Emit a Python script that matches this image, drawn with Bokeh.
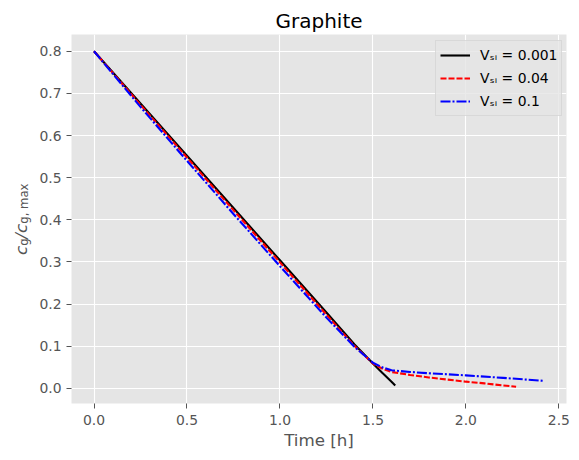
import math
from bokeh.plotting import figure
from bokeh.models import (Label, Legend, LegendItem, FixedTicker,
                          PrintfTickFormatter, Range1d)
from bokeh.embed import file_html
from bokeh.resources import INLINE

# ---- data ----
t_001 = [0.0, 0.25, 0.5, 0.75, 1.0, 1.25, 1.4, 1.5, 1.55, 1.6, 1.62]
c_001 = [0.800, 0.676, 0.552, 0.428, 0.304, 0.180, 0.105, 0.059, 0.037, 0.016, 0.007]

t_004 = [0.0, 0.25, 0.5, 0.75, 1.0, 1.25, 1.4, 1.5, 1.55, 1.6, 1.7, 1.8, 1.9, 2.0, 2.1, 2.2, 2.27]
c_004 = [0.800, 0.673, 0.548, 0.423, 0.299, 0.175, 0.101, 0.059, 0.047, 0.039, 0.032,
         0.026, 0.021, 0.016, 0.012, 0.007, 0.004]

t_01 = [0.0, 0.25, 0.5, 0.75, 1.0, 1.25, 1.4, 1.5, 1.55, 1.6, 1.7, 1.8, 2.0, 2.2, 2.42]
c_01 = [0.800, 0.668, 0.540, 0.414, 0.290, 0.168, 0.099, 0.061, 0.050, 0.043, 0.039,
        0.036, 0.031, 0.025, 0.018]

labels = ["V\u209b\u1d62 = 0.001", "V\u209b\u1d62 = 0.04", "V\u209b\u1d62 = 0.1"]
x_ticks = [0.0, 0.5, 1.0, 1.5, 2.0, 2.5]
y_ticks = [0.0, 0.1, 0.2, 0.3, 0.4, 0.5, 0.6, 0.7, 0.8]
title_text = "Graphite"
x_label = "Time [h]"
# y label c_g / c_{g, max}: main-size part and subscript part
y_label_main = "c\u2004\u200a/c"
y_label_sub = "g\u2003\u2005g, max"

FONT = "DejaVu Sans"
TICK_COLOR = "#555555"

all_t = t_001 + t_004 + t_01
all_c = c_001 + c_004 + c_01
xspan = max(all_t) - min(all_t)
yspan = max(all_c) - min(all_c)

FW, FH = 495, 369
p = figure(width=579, height=460, output_backend="svg", toolbar_location=None,
           x_range=Range1d(min(all_t) - 0.05 * xspan, max(all_t) + 0.05 * xspan),
           y_range=Range1d(min(all_c) - 0.05 * yspan, max(all_c) + 0.05 * yspan),
           min_border_left=71, min_border_top=34, min_border_right=13, min_border_bottom=57)
p.background_fill_color = "#E5E5E5"
p.border_fill_color = "white"
p.outline_line_color = None

p.title.text = title_text
p.title.align = "center"
p.title.text_font = FONT
p.title.text_font_size = "20px"
p.title.text_font_style = "normal"
p.title.text_color = "black"
p.title.standoff = 4

for ax, ticks in ((p.xaxis[0], x_ticks), (p.yaxis[0], y_ticks)):
    ax.ticker = FixedTicker(ticks=ticks)
    ax.formatter = PrintfTickFormatter(format="%.1f")
    ax.axis_line_color = None
    ax.major_tick_line_color = TICK_COLOR
    ax.major_tick_in = 0
    ax.major_tick_out = 5
    ax.minor_tick_line_color = None
    ax.major_label_text_font = FONT
    ax.major_label_text_font_size = "13.9px"
    ax.major_label_text_color = TICK_COLOR
p.xaxis.major_label_standoff = 6
p.yaxis.major_label_standoff = 5

p.xaxis.axis_label = x_label
p.xaxis.axis_label_text_font = FONT
p.xaxis.axis_label_text_font_size = "16.7px"
p.xaxis.axis_label_text_font_style = "normal"
p.xaxis.axis_label_text_color = TICK_COLOR
p.xaxis.axis_label_standoff = 2

p.xgrid.grid_line_color = "white"
p.ygrid.grid_line_color = "white"
p.xgrid.grid_line_width = 1.1
p.ygrid.grid_line_width = 1.1

r1 = p.line(t_001, c_001, line_color="black", line_width=2.1)
r2 = p.line(t_004, c_004, line_color="#FF0000", line_width=2.1, line_dash="6 2")
r3 = p.line(t_01, c_01, line_color="#0000FF", line_width=2.1, line_dash="10 2 2 2")

legend = Legend(items=[LegendItem(label=labels[0], renderers=[r1]),
                       LegendItem(label=labels[1], renderers=[r2]),
                       LegendItem(label=labels[2], renderers=[r3])],
                location=(364, 287))
legend.label_text_font = FONT
legend.label_text_font_size = "13.9px"
legend.label_text_color = "black"
legend.background_fill_color = "#E5E5E5"
legend.background_fill_alpha = 0.8
legend.border_line_color = "#CCCCCC"
legend.border_line_width = 1
legend.padding = 4
legend.margin = 0
legend.spacing = 3
legend.glyph_width = 30
legend.glyph_height = 20
legend.label_height = 20
legend.label_standoff = 10
p.add_layout(legend, "center")

# rotated y-axis label in the left panel (main part, then subscripts)
MAIN, SUB = 16.7, 11.7
start = FH / 2 - 36
p.add_layout(Label(x=4.5, y=start, x_units="screen", y_units="screen",
                   text=y_label_main, angle=math.pi / 2, text_align="left",
                   text_baseline="alphabetic", text_font=FONT,
                   text_font_size=f"{MAIN}px", text_font_style="italic",
                   text_color=TICK_COLOR), "left")
p.add_layout(Label(x=21.5, y=start + 0.55 * MAIN, x_units="screen", y_units="screen",
                   text=y_label_sub, angle=math.pi / 2, text_align="left",
                   text_baseline="alphabetic", text_font=FONT,
                   text_font_size=f"{SUB}px", text_font_style="normal",
                   text_color=TICK_COLOR), "left")

open("out.html", "w").write(file_html(p, INLINE))
